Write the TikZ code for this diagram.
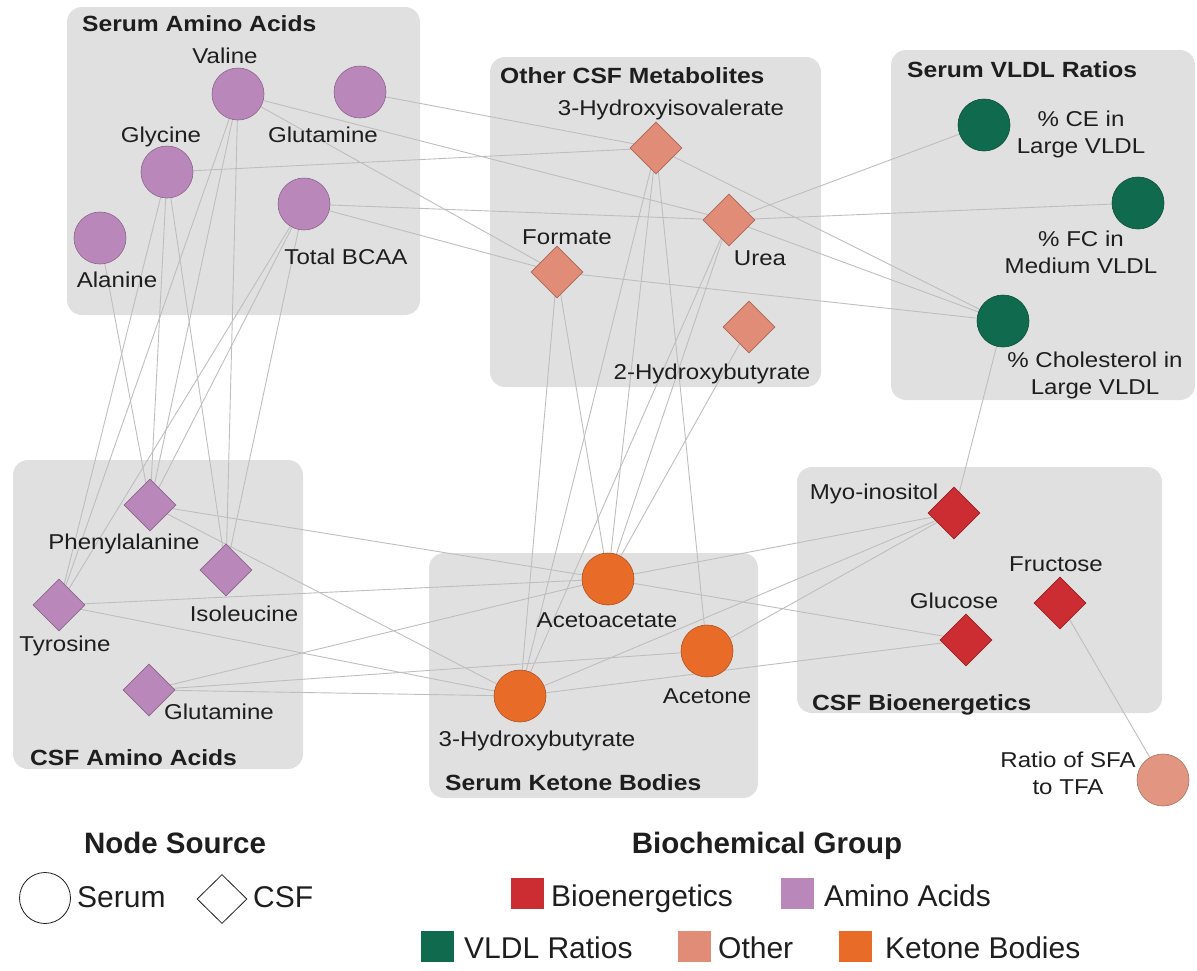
\documentclass[tikz,border=0pt]{standalone}
\usepackage{fontspec}
\setmainfont{Liberation Sans}[FakeStretch=1.12]
\newfontfamily\myleggfam{Liberation Sans}
\usetikzlibrary{shapes.geometric}
\pgfdeclarelayer{boxes}
\pgfdeclarelayer{edges}
\pgfsetlayers{boxes,edges,main}
\definecolor{boxgray}{RGB}{224,224,224}
\definecolor{edgegray}{RGB}{190,190,190}
\definecolor{txt}{RGB}{30,30,30}
\definecolor{aminoP}{RGB}{186,135,186}
\definecolor{otherS}{RGB}{224,140,118}
\definecolor{sfaS}{RGB}{226,150,130}
\definecolor{vldlG}{RGB}{16,106,78}
\definecolor{bioR}{RGB}{204,45,50}
\definecolor{ketO}{RGB}{232,108,40}
\newcommand\mylblfont{\fontsize{21.5}{27}\selectfont}
\newcommand\myttlfont{\fontsize{22}{26}\selectfont\bfseries}
\newcommand\mylegtfont{\myleggfam\fontsize{29.5}{32}\selectfont\bfseries}
\newcommand\mylegfont{\myleggfam\fontsize{30}{34}\selectfont}
\tikzset{
  serumnode/.style={circle, minimum size=52pt, inner sep=0pt, draw=#1!75!black, fill=#1, line width=0.6pt},
  csfnode/.style={diamond, aspect=1, minimum width=52pt, minimum height=52pt, inner sep=0pt, draw=#1!75!black, fill=#1, line width=0.6pt},
  grpbox/.style={fill=boxgray, rounded corners=15pt},
  edge/.style={draw=edgegray, line width=0.9pt},
  lbl/.style={font=\mylblfont, text=txt, inner sep=0pt, text height=15.4pt, text depth=0pt},
  mlbl/.style={font=\mylblfont, text=txt, inner sep=0pt, align=center},
  ttl/.style={font=\myttlfont, text=txt, inner sep=0pt, anchor=base west},
  legt/.style={font=\mylegtfont, text=txt, inner sep=0pt, anchor=base},
  legitem/.style={font=\mylegfont, text=txt, inner sep=0pt, anchor=base west},
  legsq/.style={rectangle, minimum width=33pt, minimum height=31pt, inner sep=0pt, fill=#1},
}
\begin{document}
\begin{tikzpicture}[x=1pt, y=-1pt]
\useasboundingbox (0,0) rectangle (1197,970);
% group boxes
\begin{pgfonlayer}{boxes}
\fill[grpbox] (67,7) rectangle (420,315);
\fill[grpbox] (490,57) rectangle (821,387);
\fill[grpbox] (891,50) rectangle (1195,400);
\fill[grpbox] (13,460) rectangle (303,769);
\fill[grpbox] (429,553) rectangle (758,798);
\fill[grpbox] (797,467) rectangle (1162,713);
\end{pgfonlayer}
% group titles
\node[ttl] (tSAA) at (82,31) {Serum Amino Acids};
\node[ttl] (tOCSF) at (500,83) {Other CSF Metabolites};
\node[ttl] (tVLDL) at (907,77) {Serum VLDL Ratios};
\node[ttl] (tCAA) at (30,765) {CSF Amino Acids};
\node[ttl] (tKB) at (445,790) {Serum Ketone Bodies};
\node[ttl] (tBIO) at (812,710) {CSF Bioenergetics};
% nodes
\node[serumnode=aminoP] (Val) at (238,94) {};
\node[serumnode=aminoP] (GlnS) at (360,92) {};
\node[serumnode=aminoP] (Gly) at (167,172) {};
\node[serumnode=aminoP] (TBCAA) at (304,204) {};
\node[serumnode=aminoP] (Ala) at (100,238) {};
\node[csfnode=otherS] (HIV) at (656,148) {};
\node[csfnode=otherS] (Urea) at (729,220) {};
\node[csfnode=otherS] (Form) at (557,272) {};
\node[csfnode=otherS] (HB2) at (749,327) {};
\node[serumnode=vldlG] (CE) at (984,125) {};
\node[serumnode=vldlG] (FC) at (1138,203) {};
\node[serumnode=vldlG] (Chol) at (1003,321) {};
\node[csfnode=aminoP] (Phe) at (150,505) {};
\node[csfnode=aminoP] (Ile) at (226,570) {};
\node[csfnode=aminoP] (Tyr) at (59,605) {};
\node[csfnode=aminoP] (GlnC) at (149,690) {};
\node[serumnode=ketO] (AcAc) at (608,579) {};
\node[serumnode=ketO] (Acet) at (707,651) {};
\node[serumnode=ketO] (HB3) at (520,696) {};
\node[csfnode=bioR] (Myo) at (954,513) {};
\node[csfnode=bioR] (Fru) at (1060,603) {};
\node[csfnode=bioR] (Glc) at (966,640) {};
\node[serumnode=sfaS] (SFA) at (1163,780) {};
% labels
\node[lbl] (lVal) at (225,56) {Valine};
\node[lbl] (lGlnS) at (323,135) {Glutamine};
\node[lbl] (lGly) at (161,135) {Glycine};
\node[lbl] (lTBCAA) at (346,257) {Total BCAA};
\node[lbl] (lAla) at (117,280) {Alanine};
\node[lbl] (lHIV) at (671,108) {3-Hydroxyisovalerate};
\node[lbl] (lUrea) at (760,258) {Urea};
\node[lbl] (lForm) at (567,237) {Formate};
\node[lbl] (lHB2) at (712,372) {2-Hydroxybutyrate};
\node[mlbl] (lCE) at (1081,134.5) {\% CE in\\Large VLDL};
\node[mlbl] (lFC) at (1081,252) {\% FC in\\Medium VLDL};
\node[mlbl] (lChol) at (1095,375) {\% Cholesterol in\\Large VLDL};
\node[lbl] (lPhe) at (124,542) {Phenylalanine};
\node[lbl] (lIle) at (244,614) {Isoleucine};
\node[lbl] (lTyr) at (65,644) {Tyrosine};
\node[lbl] (lGlnC) at (219,712) {Glutamine};
\node[lbl] (lAcAc) at (607,620) {Acetoacetate};
\node[lbl] (lAcet) at (707,696) {Acetone};
\node[lbl] (lHB3) at (537,739) {3-Hydroxybutyrate};
\node[lbl] (lMyo) at (874,492) {Myo-inositol};
\node[lbl] (lFru) at (1056,564) {Fructose};
\node[lbl] (lGlc) at (954,601) {Glucose};
\node[mlbl] (lSFA) at (1068,773.5) {Ratio of SFA\\to TFA};
% edges
\begin{pgfonlayer}{edges}
\foreach \a/\b in {Val/Urea, Val/Form, Val/Tyr, Val/Phe, Val/Ile,
  GlnS/HIV, Gly/HIV, Gly/Tyr, Gly/Phe, Gly/Ile, Ala/Phe,
  TBCAA/Urea, TBCAA/Form, TBCAA/Ile, TBCAA/Phe, TBCAA/Tyr,
  HIV/Chol, HIV/HB3, HIV/AcAc, HIV/Acet,
  Urea/CE, Urea/FC, Urea/Chol, Urea/AcAc, Urea/HB3,
  Form/Chol, Form/HB3, Form/AcAc, HB2/AcAc, Chol/Myo,
  Phe/AcAc, Phe/HB3, Tyr/AcAc, Tyr/HB3,
  GlnC/AcAc, GlnC/Acet, GlnC/HB3,
  Myo/AcAc, Myo/HB3, Myo/Acet, Glc/AcAc, Glc/HB3, Fru/SFA}
  \draw[edge] (\a) -- (\b);
\end{pgfonlayer}
% legend
\node[legt] (lgSrc) at (175,853) {Node Source};
\node[legt] (lgGrp) at (767,853) {Biochemical Group};
\node[circle, draw=txt, line width=0.8pt, minimum size=51pt, inner sep=0pt] (lgSerum) at (45,898) {};
\node[legitem] (lgSerumT) at (77,907) {Serum};
\node[diamond, draw=txt, line width=0.8pt, minimum width=50pt, minimum height=49pt, inner sep=0pt] (lgCSF) at (222,899) {};
\node[legitem] (lgCSFT) at (253,907) {CSF};
\node[legsq=bioR] (sqBio) at (527,893) {};
\node[legitem] (sqBioT) at (551,906) {Bioenergetics};
\node[legsq=aminoP] (sqAA) at (797,893) {};
\node[legitem] (sqAAT) at (824,906) {Amino Acids};
\node[legsq=vldlG] (sqV) at (437,946) {};
\node[legitem] (sqVT) at (464,958) {VLDL Ratios};
\node[legsq=otherS] (sqO) at (694,946) {};
\node[legitem] (sqOT) at (718,958) {Other};
\node[legsq=ketO] (sqK) at (855,946) {};
\node[legitem] (sqKT) at (885,958) {Ketone Bodies};
\end{tikzpicture}
\end{document}
